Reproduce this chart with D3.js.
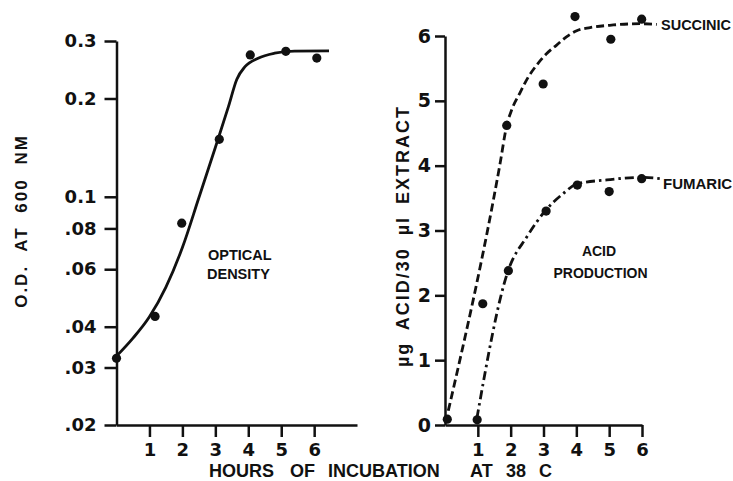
<!DOCTYPE html>
<html>
<head>
<meta charset="utf-8">
<script src="https://cdn.jsdelivr.net/npm/d3@7"></script>
<style>
body { margin: 0; background: #fff; }
svg { display: block; }
.word { font-family: "Liberation Sans", Arial, sans-serif; font-weight: bold; fill: #111; }
.axis text { font-family: "DejaVu Sans", sans-serif; font-weight: bold; fill: #111; }
.axis path, .axis line { stroke: #111; stroke-width: 2.5; }
</style>
</head>
<body>
<svg id="chart"></svg>
<script>
/* left panel: optical density (log scale) */
let odTickValues = [0.02, 0.03, 0.04, 0.06, 0.08, 0.1, 0.2, 0.3];
let odTickLabels = ['.02', '.03', '.04', '.06', '.08', '0.1', '0.2', '0.3'];
let odHours  = [0, 1.17, 1.98, 3.12, 4.06, 5.14, 6.08];
let odValues = [0.032, 0.043, 0.083, 0.150, 0.272, 0.279, 0.266];
let odCurveHours  = [0, 0.5, 1.0, 1.5, 2.0, 2.5, 3.0, 3.4, 3.65, 3.9, 4.3, 4.8, 5.4, 6.45];
let odCurveValues = [0.0325, 0.0369, 0.0429, 0.0529, 0.0699, 0.0993, 0.1416, 0.1892, 0.2288, 0.2503, 0.2658, 0.2753, 0.2794, 0.28];

/* right panel: acid production */
let hourTicks = [1, 2, 3, 4, 5, 6];
let acidTicks = [0, 1, 2, 3, 4, 5, 6];
let succinicHours  = [0.07, 1.15, 1.88, 2.99, 3.96, 5.05, 5.99];
let succinicValues = [0.09, 1.87, 4.62, 5.26, 6.30, 5.95, 6.26];
let fumaricHours  = [0.98, 1.93, 3.08, 4.03, 5.0, 5.99];
let fumaricValues = [0.08, 2.38, 3.3, 3.7, 3.6, 3.8];
let succinicCurveHours  = [0.1, 1.68, 1.88, 2.03, 2.28, 2.54, 2.79, 3.1, 3.4, 3.71, 4.01, 4.42, 5.13, 5.94, 6.45];
let succinicCurveValues = [0.22, 4.04, 4.62, 4.86, 5.12, 5.37, 5.55, 5.73, 5.86, 5.99, 6.08, 6.13, 6.17, 6.19, 6.18];
let fumaricCurveHours  = [0.97, 1.93, 2.49, 3.08, 3.6, 4.03, 4.93, 5.99, 6.55];
let fumaricCurveValues = [0.1, 2.39, 2.9, 3.32, 3.57, 3.72, 3.78, 3.82, 3.8];

/* x title words */
let xTitleWords = ['HOURS', 'OF', 'INCUBATION', 'AT', '38', 'C'];
let xTitleStarts = [209, 290, 328, 470, 506, 539];

let width = 733;
let height = 481;
let ink = '#111';

let svg = d3.select('#chart')
    .attr('width', width)
    .attr('height', height);

/* scales */
let xOd = d3.scaleLinear().domain([0, 7.3]).range([116.5, 357]);
let yOd = d3.scaleLog().domain([0.02, 0.3]).range([425, 41]);
let xAcid = d3.scaleLinear().domain([0, 6]).range([445, 642]);
let yAcid = d3.scaleLinear().domain([0, 6]).range([425, 36]);

let zip = (xs, ys) => xs.map((x, i) => [x, ys[i]]);
let intFmt = d3.format('d');

/* axes */
let drawAxes = () => {
    let g = svg.append('g').attr('class', 'axis')
        .attr('transform', 'translate(' + xOd(0) + ',0)')
        .call(d3.axisLeft(yOd).tickValues(odTickValues)
            .tickFormat((d, i) => odTickLabels[i])
            .tickSizeInner(12).tickSizeOuter(0).tickPadding(8));
    g.selectAll('text').style('font-size', '18px');

    g = svg.append('g').attr('class', 'axis')
        .attr('transform', 'translate(0,' + yOd(0.02) + ')')
        .call(d3.axisBottom(xOd).tickValues(hourTicks).tickFormat(intFmt)
            .tickSizeInner(12).tickSizeOuter(0).tickPadding(6));
    g.selectAll('text').style('font-size', '18px');

    g = svg.append('g').attr('class', 'axis')
        .attr('transform', 'translate(' + xAcid(0) + ',0)')
        .call(d3.axisLeft(yAcid).tickValues(acidTicks).tickFormat(intFmt)
            .tickSizeInner(10).tickSizeOuter(0).tickPadding(4));
    g.selectAll('text').style('font-size', '19px');

    g = svg.append('g').attr('class', 'axis')
        .attr('transform', 'translate(0,' + yAcid(0) + ')')
        .call(d3.axisBottom(xAcid).tickValues(hourTicks).tickFormat(intFmt)
            .tickSizeInner(12).tickSizeOuter(0).tickPadding(6));
    g.selectAll('text').style('font-size', '18px');
};

/* curves */
let drawCurve = (pts, xs, ys, dash) => {
    let line = d3.line()
        .x(d => xs(d[0]))
        .y(d => ys(d[1]))
        .curve(d3.curveMonotoneX);
    svg.append('path')
        .datum(pts)
        .attr('d', line)
        .attr('fill', 'none')
        .attr('stroke', ink)
        .attr('stroke-width', 2.8)
        .attr('stroke-dasharray', dash);
};

let drawPoints = (pts, xs, ys) => {
    svg.append('g').selectAll('circle')
        .data(pts)
        .enter()
        .append('circle')
        .attr('cx', d => xs(d[0]))
        .attr('cy', d => ys(d[1]))
        .attr('r', 4.6)
        .attr('fill', ink);
};

let drawText = (txt, x, y, size, anchor) => {
    return svg.append('text')
        .attr('class', 'word')
        .attr('x', x)
        .attr('y', y)
        .attr('text-anchor', anchor || 'start')
        .style('font-size', size + 'px')
        .text(txt);
};

drawAxes();

drawCurve(zip(odCurveHours, odCurveValues), xOd, yOd, null);
drawPoints(zip(odHours, odValues), xOd, yOd);

drawCurve(zip(succinicCurveHours, succinicCurveValues), xAcid, yAcid, '8,4');
drawCurve(zip(fumaricCurveHours, fumaricCurveValues), xAcid, yAcid, '9,4,2.5,4');
drawPoints(zip(succinicHours, succinicValues), xAcid, yAcid);
drawPoints(zip(fumaricHours, fumaricValues), xAcid, yAcid);

/* panel labels */
drawText('OPTICAL', 208, 259.5, 14.5);
drawText('DENSITY', 207, 278.5, 14.5);
drawText('ACID', 599, 255.5, 14, 'middle');
drawText('PRODUCTION', 600.5, 277.5, 14, 'middle');
drawText('SUCCINIC', 661, 30, 14.5);
drawText('FUMARIC', 663, 188.5, 15);

/* axis titles */
let xt = svg.append('text').attr('class', 'word')
    .attr('y', 476.5).style('font-size', '18px');
xt.selectAll('tspan')
    .data(xTitleWords)
    .enter()
    .append('tspan')
    .attr('x', (d, i) => xTitleStarts[i])
    .text(d => d);

drawText('O.D. AT 600 NM', 0, 0, 17, 'middle')
    .attr('transform', 'translate(27,221) rotate(-90)')
    .style('word-spacing', '7px')
    .style('letter-spacing', '2px');

drawText('\u00b5g ACID/30 \u00b5l EXTRACT', 0, 0, 18, 'middle')
    .attr('transform', 'translate(409,236) rotate(-90)')
    .style('word-spacing', '5px')
    .style('letter-spacing', '2px');
</script>
</body>
</html>
